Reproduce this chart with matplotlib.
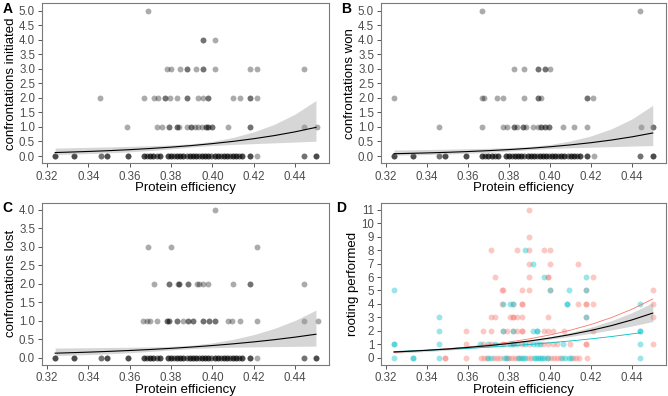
import numpy as np
import matplotlib
matplotlib.use('Agg')
import matplotlib.pyplot as plt

plt.rcParams['font.family'] = ['Liberation Sans', 'DejaVu Sans']

# x values of the zero row, shared by panels A-C (count = overlapping dots)
zero_x = [0.3238, 0.3330, 0.3460, 0.3490, 0.3590, 0.3670, 0.3685, 0.3700, 0.3715, 0.3730,
          0.3745, 0.3785, 0.3800, 0.3815, 0.3830, 0.3845, 0.3860, 0.3875, 0.3890, 0.3905,
          0.3920, 0.3935, 0.3950, 0.3965, 0.3980, 0.3995, 0.4010, 0.4025, 0.4040, 0.4055,
          0.4070, 0.4085, 0.4100, 0.4115, 0.4130, 0.4145, 0.4180, 0.4213, 0.4440, 0.4500]
zero_n = [3, 3, 2, 3, 3, 3, 2, 3, 3, 2, 3, 3, 3, 2, 3, 3, 3, 2, 3, 3,
          3, 2, 3, 3, 3, 2, 3, 3, 2, 3, 3, 2, 3, 3, 2, 3, 3, 1, 2, 3]

# panel A: confrontations initiated
a_levels = [5, 4, 3, 2, 1]
a_pe = [[0.3690],
        [0.3952, 0.3952, 0.4013],
        [0.3780, 0.3800, 0.3841, 0.3879, 0.3879, 0.3920, 0.3953, 0.3953, 0.4012, 0.4181, 0.4213, 0.4442],
        [0.3456, 0.3668, 0.3716, 0.3737, 0.3772, 0.3772, 0.3793, 0.3831, 0.3879, 0.3879, 0.3932,
         0.3953, 0.3980, 0.3980, 0.4100, 0.4133, 0.4181, 0.4181, 0.4213],
        [0.3588, 0.3732, 0.3756, 0.3788, 0.3788, 0.3828, 0.3828, 0.3836, 0.3879, 0.3897, 0.3897,
         0.3916, 0.3932, 0.3949, 0.3968, 0.3968, 0.3980, 0.3980, 0.3999, 0.3999, 0.4074, 0.4181,
         0.4181, 0.4442, 0.4506]]

# panel B: confrontations won
b_levels = [5, 3, 2, 1]
b_pe = [[0.3670, 0.4440],
        [0.3824, 0.3873, 0.3942, 0.3942, 0.3973, 0.3973, 0.3999],
        [0.3238, 0.3667, 0.3678, 0.3740, 0.3772, 0.3873, 0.3942, 0.3942, 0.3954, 0.4178, 0.4178, 0.4210],
        [0.3460, 0.3670, 0.3772, 0.3792, 0.3824, 0.3824, 0.3837, 0.3868, 0.3868, 0.3881, 0.3918,
         0.3941, 0.3954, 0.3954, 0.3973, 0.3973, 0.3994, 0.3994, 0.4064, 0.4116, 0.4178, 0.4444,
         0.4502, 0.4502]]

# panel C: confrontations lost
c_levels = [4, 3, 2, 1]
c_pe = [[0.4012],
        [0.3687, 0.3800, 0.4213],
        [0.3719, 0.3790, 0.3790, 0.3832, 0.3840, 0.3840, 0.3883, 0.3883, 0.3924, 0.3936, 0.3955,
         0.3980, 0.4100, 0.4181, 0.4181, 0.4442],
        [0.3666, 0.3682, 0.3698, 0.3730, 0.3782, 0.3782, 0.3792, 0.3792, 0.3830, 0.3830, 0.3860,
         0.3883, 0.3883, 0.3907, 0.3907, 0.3955, 0.3955, 0.3983, 0.3983, 0.4012, 0.4012, 0.4076,
         0.4096, 0.4135, 0.4213, 0.4442, 0.4508]]

# panel D: rooting performed, two groups
d_levels = [11, 9, 8, 7, 6, 5, 4, 3, 2, 1, 0]
d_red = [[0.3897],
         [0.3897],
         [0.3712, 0.3837, 0.3897, 0.3970, 0.3999],
         [0.3897, 0.3999, 0.4134],
         [0.3732, 0.3897, 0.3991, 0.3991, 0.4211],
         [0.3764, 0.3772, 0.3865, 0.3897, 0.3999, 0.4175, 0.4500],
         [0.3764, 0.3818, 0.3865, 0.3865, 0.4134, 0.4175, 0.4175, 0.4211, 0.4500],
         [0.3712, 0.3732, 0.3805, 0.3818, 0.3818, 0.3837, 0.3865, 0.3991, 0.4175, 0.4500],
         [0.3590, 0.3675, 0.3712, 0.3769, 0.3789, 0.3818, 0.3837, 0.3865, 0.3865, 0.3970, 0.3991,
          0.4016, 0.4069, 0.4211],
         [0.3590, 0.3675, 0.3711, 0.3772, 0.3818, 0.3865, 0.3897, 0.3967, 0.3991, 0.4012, 0.4032,
          0.4097, 0.4175, 0.4175, 0.4500],
         [0.3490, 0.3490, 0.3590, 0.3665, 0.3680, 0.3695, 0.3725, 0.3740, 0.3755, 0.3785, 0.3800,
          0.3815, 0.3830, 0.3850, 0.3890, 0.3905, 0.3985, 0.4005, 0.4020, 0.4035, 0.4050, 0.4110,
          0.4125, 0.4140, 0.4180]]
d_cyan = [[],
          [],
          [0.3878],
          [0.3918],
          [0.3970, 0.4175],
          [0.3238, 0.3999, 0.4092, 0.4175],
          [0.3772, 0.3805, 0.3818, 0.4081, 0.4081, 0.4440],
          [0.3460, 0.4175],
          [0.3460, 0.3772, 0.3818, 0.3918, 0.3935, 0.3935, 0.4440, 0.4440],
          [0.3238, 0.3238, 0.3460, 0.3659, 0.3699, 0.3732, 0.3805, 0.3818, 0.3837, 0.3878, 0.3918,
           0.3935, 0.3951, 0.4064, 0.4440],
          [0.3238, 0.3330, 0.3330, 0.3460, 0.3700, 0.3710, 0.3775, 0.3790, 0.3845, 0.3860, 0.3870,
           0.3880, 0.3920, 0.3930, 0.3940, 0.3950, 0.3960, 0.3970, 0.3990, 0.4060, 0.4075, 0.4090,
           0.4100, 0.4440]]

# fitted curves and confidence bands
fit_x = [0.324, 0.33, 0.34, 0.35, 0.36, 0.37, 0.38, 0.39, 0.40, 0.41, 0.42, 0.43, 0.44, 0.45]
a_fit = [0.120, 0.133, 0.157, 0.185, 0.219, 0.259, 0.306, 0.361, 0.427, 0.504, 0.596, 0.704, 0.833, 0.985]
a_hi = [0.272, 0.282, 0.298, 0.314, 0.333, 0.355, 0.381, 0.422, 0.503, 0.639, 0.833, 1.093, 1.444, 1.908]
a_lo = [0.053, 0.063, 0.083, 0.109, 0.144, 0.189, 0.246, 0.309, 0.362, 0.398, 0.426, 0.453, 0.481, 0.509]
b_fit = [0.080, 0.089, 0.107, 0.128, 0.154, 0.185, 0.222, 0.266, 0.319, 0.383, 0.459, 0.551, 0.661, 0.792]
b_hi = [0.206, 0.212, 0.224, 0.236, 0.251, 0.267, 0.290, 0.326, 0.397, 0.518, 0.693, 0.939, 1.279, 1.742]
b_lo = [0.031, 0.037, 0.051, 0.069, 0.095, 0.128, 0.170, 0.217, 0.256, 0.283, 0.304, 0.323, 0.342, 0.360]
c_fit = [0.120, 0.130, 0.148, 0.169, 0.193, 0.220, 0.251, 0.287, 0.327, 0.373, 0.426, 0.486, 0.555, 0.633]
c_hi = [0.259, 0.263, 0.268, 0.274, 0.281, 0.290, 0.305, 0.337, 0.399, 0.495, 0.624, 0.793, 1.009, 1.286]
c_lo = [0.056, 0.064, 0.082, 0.104, 0.133, 0.167, 0.207, 0.244, 0.268, 0.281, 0.291, 0.298, 0.305, 0.312]
d_fit = [0.420, 0.463, 0.546, 0.643, 0.758, 0.893, 1.052, 1.239, 1.460, 1.720, 2.027, 2.388, 2.814, 3.315]
d_hi = [0.529, 0.571, 0.652, 0.743, 0.850, 0.972, 1.117, 1.302, 1.551, 1.871, 2.272, 2.761, 3.360, 4.091]
d_lo = [0.334, 0.375, 0.457, 0.556, 0.676, 0.821, 0.991, 1.179, 1.375, 1.581, 1.808, 2.066, 2.357, 2.686]
d_red_fit = [0.400, 0.448, 0.542, 0.655, 0.792, 0.958, 1.157, 1.399, 1.692, 2.044, 2.471, 2.988, 3.613, 4.365]
cyan_x = [0.324, 0.33, 0.34, 0.35, 0.36, 0.37, 0.38, 0.39, 0.40, 0.41, 0.42, 0.43, 0.44, 0.444]
d_cyan_fit = [0.450, 0.483, 0.544, 0.612, 0.688, 0.774, 0.871, 0.981, 1.104, 1.242, 1.397, 1.572, 1.769, 1.854]

RED = '#F8766D'
CYAN = '#00BFC4'
XLIM = (0.3175, 0.4563)
W, H = 668, 396


def box(l, t, r, b):
    return [l / W, 1 - b / H, (r - l) / W, (b - t) / H]


def rows(levels, pe):
    xs, ys = [], []
    for lv, row in zip(levels, pe):
        xs += row
        ys += [lv] * len(row)
    return xs, ys


def style(ax, ylabel, yticks, fmt, ylim):
    ax.set_xlim(XLIM)
    ax.set_ylim(ylim)
    xt = np.arange(0.32, 0.4401, 0.02)
    ax.set_xticks(xt)
    ax.set_xticklabels(['%.2f' % v for v in xt])
    ax.set_yticks(yticks)
    ax.set_yticklabels([fmt % v for v in yticks])
    ax.tick_params(colors='#555555', labelcolor='#4D4D4D', labelsize=8.3, length=2.75, width=0.7, pad=2)
    ax.tick_params(axis='x', pad=2.5)
    for s in ax.spines.values():
        s.set_color('#7a7a7a')
        s.set_linewidth(0.8)
    ax.set_xlabel('Protein efficiency', fontsize=9.5, labelpad=-0.5)
    ax.set_ylabel(ylabel, fontsize=9.5, labelpad=1.5)


fig = plt.figure(figsize=(6.68, 3.96), dpi=100)

panels = [
    ('A', box(41.7, 3.3, 329, 163.3), a_levels, a_pe, a_fit, a_hi, a_lo,
     'confrontations initiated', np.arange(0, 5.01, 0.5), (-0.25, 5.25)),
    ('B', box(380.7, 3.3, 665.7, 163.3), b_levels, b_pe, b_fit, b_hi, b_lo,
     'confrontations won', np.arange(0, 5.01, 0.5), (-0.25, 5.25)),
    ('C', box(41.7, 202.5, 329, 365), c_levels, c_pe, c_fit, c_hi, c_lo,
     'confrontations lost', np.arange(0, 4.01, 0.5), (-0.2, 4.2)),
]

for lab, pos, levels, pe, fit, hi, lo, ylabel, yt, ylim in panels:
    ax = fig.add_axes(pos)
    zx = np.repeat(zero_x, zero_n)
    ax.scatter(zx, np.zeros(len(zx)), s=18, color='black', alpha=0.33, lw=0)
    xs, ys = rows(levels, pe)
    ax.scatter(xs, ys, s=18, color='black', alpha=0.33, lw=0)
    ax.fill_between(fit_x, lo, hi, color='#999999', alpha=0.4, lw=0)
    ax.plot(fit_x, fit, color='black', lw=0.8)
    style(ax, ylabel, yt, '%.1f', ylim)
    fig.text(pos[0] - 0.059, pos[1] + pos[3] + 0.003, lab, fontsize=10, fontweight='bold', va='top')

# panel D
pos = box(380.7, 202.5, 665.7, 365)
ax = fig.add_axes(pos)
rx, ry = rows(d_levels, d_red)
cx, cy = rows(d_levels, d_cyan)
ax.scatter(rx, ry, s=18, color=RED, alpha=0.4, lw=0)
ax.scatter(cx, cy, s=18, color=CYAN, alpha=0.4, lw=0)
ax.fill_between(fit_x, d_lo, d_hi, color='#999999', alpha=0.4, lw=0)
ax.plot(fit_x, d_red_fit, color=RED, lw=0.6)
ax.plot(cyan_x, d_cyan_fit, color=CYAN, lw=0.6)
ax.plot(fit_x, d_fit, color='black', lw=0.8)
style(ax, 'rooting performed', np.arange(0, 12), '%d', (-0.55, 11.55))
fig.text(pos[0] - 0.066, pos[1] + pos[3] + 0.003, 'D', fontsize=10, fontweight='bold', va='top')

fig.savefig('out.png', dpi=100)
